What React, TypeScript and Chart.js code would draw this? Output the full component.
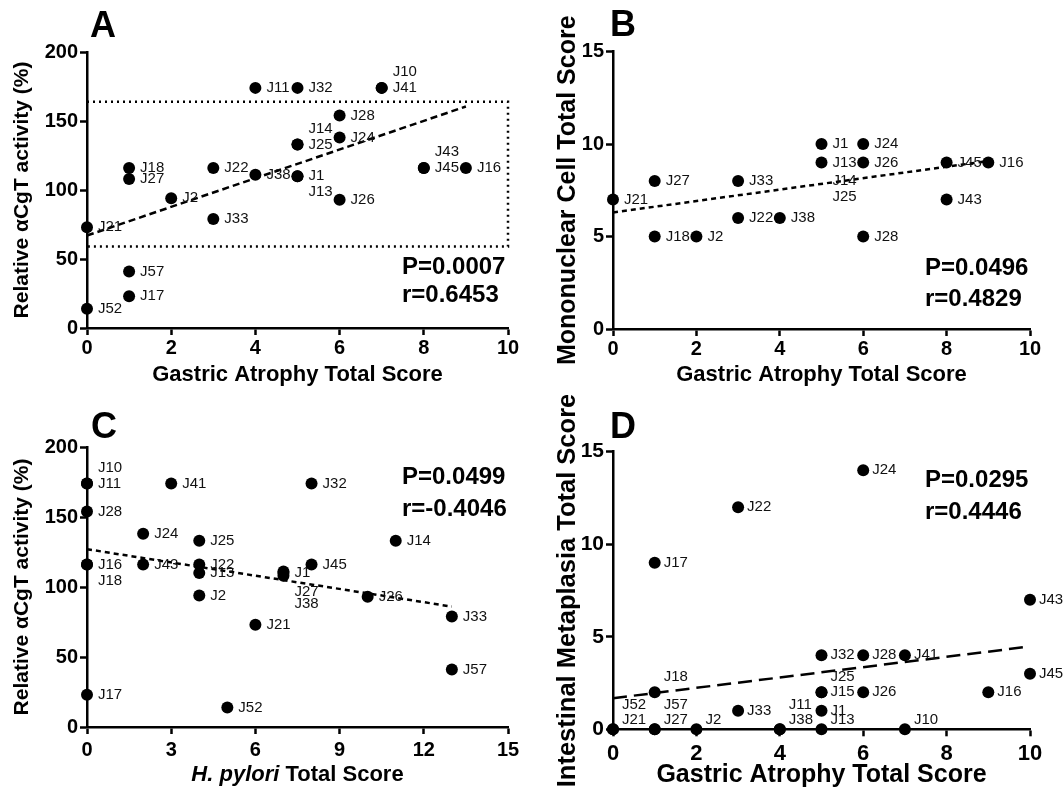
import React, { useEffect, useRef } from "react";
import { Chart, registerables } from "chart.js";
Chart.register(...registerables);

const FONT = "'Liberation Sans', Arial, Helvetica, sans-serif";

// ---------- Panel A: Relative αCgT activity vs Gastric Atrophy ----------
const aIds = ["J11","J32","J41","J10","J28","J24","J25","J14","J18","J27","J22","J38","J1","J13","J45","J43","J16","J26","J2","J33","J21","J57","J17","J52"];
const aX = [4,5,7,7,6,6,5,5,1,1,3,4,5,5,8,8,9,6,2,3,0,1,1,0];
const aY = [174,174,174,174,154,138,133,133,116,108,116,111,110,110,116,116,116,93,94,79,73,41,23,14];
const aSlot = [0,0,0,-1,0,0,0,-1,0,0,0,0,0,1,0,-1,0,0,0,0,0,0,0,0];
const aTrendX = [0, 9];
const aTrendY = [67, 160.5];
const aBoxX = [0, 10, 10, 0];
const aBoxY = [164, 164, 59, 59];
const aStats = ["P=0.0007", "r=0.6453"];

// ---------- Panel B: Mononuclear cell vs Gastric Atrophy ----------
const bIds = ["J1","J24","J13","J26","J45","J16","J27","J33","J14","J25","J21","J43","J22","J38","J18","J2","J28"];
const bX = [5,6,5,6,8,9,1,3,5,5,0,8,3,4,1,2,6];
const bY = [10,10,9,9,9,9,8,8,8,8,7,7,6,6,5,5,5];
const bSlot = [0,0,0,0,0,0,0,0,0,1,0,0,0,0,0,0,0];
const bNoDot = ["J14","J25"];
const bTrendX = [0, 9];
const bTrendY = [6.3, 9.08];
const bStats = ["P=0.0496", "r=0.4829"];

// ---------- Panel C: Relative αCgT activity vs H. pylori ----------
const cIds = ["J11","J10","J41","J32","J28","J24","J25","J14","J16","J18","J43","J22","J13","J45","J1","J27","J38","J2","J26","J33","J21","J57","J17","J52"];
const cX = [0,0,3,8,0,2,4,11,0,0,2,4,4,8,7,7,7,4,10,13,6,13,0,5];
const cY = [174,174,174,174,154,138,133,133,116,116,116,116,110,116,110,108,111,94,93,79,73,41,23,14];
const cSlot = [0,-1,0,0,0,0,0,0,0,1,0,0,0,0,0,1,2,0,0,0,0,0,0,0];
const cTrendX = [0, 13];
const cTrendY = [127, 86];
const cStats = ["P=0.0499", "r=-0.4046"];

// ---------- Panel D: Intestinal metaplasia vs Gastric Atrophy ----------
const dIds = ["J24","J22","J17","J43","J32","J28","J41","J45","J18","J15","J25","J26","J16","J33","J1","J21","J52","J27","J57","J2","J38","J11","J13","J10"];
const dX = [6,3,1,10,5,6,7,10,1,5,5,6,9,3,5,0,0,1,1,2,4,4,5,7];
const dY = [14,12,9,7,4,4,4,3,2,2,2,2,2,1,1,0,0,0,0,0,0,0,0,0];
const dSlot = [0,0,0,0,0,0,0,0,-1,0,-1,0,0,0,0,-0.65,-1.65,-0.65,-1.65,-0.65,-0.65,-1.65,-0.65,-0.65];
const dTrendX = [0, 9.83];
const dTrendY = [1.68, 4.43];
const dStats = ["P=0.0295", "r=0.4446"];

type Panel = {
  key: string;
  left: number; top: number; width: number; height: number;
  area: { left: number; right: number; top: number; bottom: number };
  ids: string[]; xs: number[]; ys: number[]; slots: number[]; noDot?: string[];
  trendX: number[]; trendY: number[]; trendDash: number[];
  boxX?: number[]; boxY?: number[];
  xMin: number; xMax: number; xStep: number;
  yMin: number; yMax: number; yStep: number;
  xTitle: string | null; xTitleSize: number; xTitlePad: number;
  yTitle: string; yTitleSize: number; yTitlePad: number;
  xTickSize: number; xTickPad: number; yTickSize: number;
  letter: string; letterX: number; letterY: number;
  stats: string[]; statsX: number; statsY: number[];
  labelSize: number; labelDx: number; labelLine: number; pointR: number;
  italicTitle?: { italic: string; rest: string; y: number; size: number };
};

const panels: Panel[] = [
  {
    key: "A", left: 0, top: 0, width: 530, height: 395,
    area: { left: 87, right: 508, top: 52, bottom: 328 },
    ids: aIds, xs: aX, ys: aY, slots: aSlot,
    trendX: aTrendX, trendY: aTrendY, trendDash: [7, 4],
    boxX: aBoxX, boxY: aBoxY,
    xMin: 0, xMax: 10, xStep: 2, yMin: 0, yMax: 200, yStep: 50,
    xTitle: "Gastric Atrophy Total Score", xTitleSize: 22, xTitlePad: 6.8,
    yTitle: "Relative \u03b1CgT activity (%)", yTitleSize: 21, yTitlePad: 9.4,
    xTickSize: 20, xTickPad: 1, yTickSize: 20,
    letter: "A", letterX: 90, letterY: 27,
    stats: aStats, statsX: 402, statsY: [267, 295],
    labelSize: 15, labelDx: 11, labelLine: 16, pointR: 6,
  },
  {
    key: "B", left: 530, top: 0, width: 534, height: 395,
    area: { left: 83, right: 500, top: 51.5, bottom: 329 },
    ids: bIds, xs: bX, ys: bY, slots: bSlot, noDot: bNoDot,
    trendX: bTrendX, trendY: bTrendY, trendDash: [5, 4],
    xMin: 0, xMax: 10, xStep: 2, yMin: 0, yMax: 15, yStep: 5,
    xTitle: "Gastric Atrophy Total Score", xTitleSize: 22, xTitlePad: 6.8,
    yTitle: "Mononuclear Cell Total Score", yTitleSize: 25, yTitlePad: 23,
    xTickSize: 20, xTickPad: 1, yTickSize: 20,
    letter: "B", letterX: 80, letterY: 26,
    stats: bStats, statsX: 395, statsY: [268, 299],
    labelSize: 15, labelDx: 11, labelLine: 16, pointR: 6,
  },
  {
    key: "C", left: 0, top: 395, width: 530, height: 398,
    area: { left: 87, right: 508, top: 52, bottom: 332 },
    ids: cIds, xs: cX, ys: cY, slots: cSlot,
    trendX: cTrendX, trendY: cTrendY, trendDash: [5, 4],
    xMin: 0, xMax: 15, xStep: 3, yMin: 0, yMax: 200, yStep: 50,
    xTitle: null, xTitleSize: 22, xTitlePad: 0,
    yTitle: "Relative \u03b1CgT activity (%)", yTitleSize: 21, yTitlePad: 9.4,
    xTickSize: 20, xTickPad: 4, yTickSize: 20,
    letter: "C", letterX: 91, letterY: 33,
    stats: cStats, statsX: 402, statsY: [82, 114],
    labelSize: 15, labelDx: 11, labelLine: 16, pointR: 6,
    italicTitle: { italic: "H. pylori", rest: " Total Score", y: 380, size: 22 },
  },
  {
    key: "D", left: 530, top: 395, width: 534, height: 398,
    area: { left: 83, right: 500, top: 56.7, bottom: 334.3 },
    ids: dIds, xs: dX, ys: dY, slots: dSlot,
    trendX: dTrendX, trendY: dTrendY, trendDash: [14, 7],
    xMin: 0, xMax: 10, xStep: 2, yMin: 0, yMax: 15, yStep: 5,
    xTitle: "Gastric Atrophy Total Score", xTitleSize: 25, xTitlePad: 3,
    yTitle: "Intestinal Metaplasia Total Score", yTitleSize: 25.5, yTitlePad: 22.7,
    xTickSize: 22, xTickPad: 4, yTickSize: 21,
    letter: "D", letterX: 80, letterY: 33,
    stats: dStats, statsX: 395, statsY: [85, 117],
    labelSize: 15, labelDx: 9, labelLine: 15, pointR: 6,
  },
];

function makeChart(canvas: HTMLCanvasElement, p: Panel) {
  const pts = p.ids.map((_, i) => ({ x: p.xs[i], y: p.ys[i] }));
  const trend = p.trendX.map((x, i) => ({ x, y: p.trendY[i] }));
  const datasets: any[] = [
    {
      data: pts,
      backgroundColor: "#000",
      pointBackgroundColor: "#000",
      pointBorderWidth: 0,
      pointRadius: (ctx: any) => (p.noDot && p.noDot.includes(p.ids[ctx.dataIndex]) ? 0 : p.pointR),
      pointHoverRadius: p.pointR,
      showLine: false,
      clip: false,
      order: 0,
    },
    {
      data: trend,
      showLine: true,
      borderColor: "#000",
      borderWidth: 2.5,
      borderDash: p.trendDash,
      pointRadius: 0,
      clip: false,
      order: 1,
    },
  ];
  if (p.boxX && p.boxY) {
    datasets.push({
      data: p.boxX.map((x, i) => ({ x, y: p.boxY![i] })),
      showLine: true,
      borderColor: "#000",
      borderWidth: 2.5,
      borderDash: [2, 4],
      pointRadius: 0,
      clip: false,
      order: 2,
    });
  }

  const overlay = {
    id: "overlay" + p.key,
    afterDatasetsDraw(chart: any) {
      const ctx = chart.ctx;
      const xs = chart.scales.x;
      const ys = chart.scales.y;
      ctx.save();
      ctx.font = `${p.labelSize}px ${FONT}`;
      ctx.fillStyle = "#111";
      ctx.textBaseline = "middle";
      ctx.textAlign = "left";
      p.ids.forEach((id, i) => {
        const px = xs.getPixelForValue(p.xs[i]);
        const py = ys.getPixelForValue(p.ys[i]);
        ctx.fillText(id, px + p.labelDx, py + p.slots[i] * p.labelLine);
      });
      ctx.restore();
    },
    afterDraw(chart: any) {
      const ctx = chart.ctx;
      ctx.save();
      ctx.fillStyle = "#000";
      ctx.textBaseline = "middle";
      ctx.textAlign = "left";
      ctx.font = `bold 36px ${FONT}`;
      ctx.fillText(p.letter, p.letterX, p.letterY);
      ctx.font = `bold 24px ${FONT}`;
      p.stats.forEach((s, i) => ctx.fillText(s, p.statsX, p.statsY[i]));
      if (p.italicTitle) {
        const t = p.italicTitle;
        const area = chart.chartArea;
        ctx.font = `italic bold ${t.size}px ${FONT}`;
        const w1 = ctx.measureText(t.italic).width;
        ctx.font = `bold ${t.size}px ${FONT}`;
        const w2 = ctx.measureText(t.rest).width;
        const cx = (area.left + area.right) / 2;
        const x0 = cx - (w1 + w2) / 2;
        ctx.font = `italic bold ${t.size}px ${FONT}`;
        ctx.fillText(t.italic, x0, t.y);
        ctx.font = `bold ${t.size}px ${FONT}`;
        ctx.fillText(t.rest, x0 + w1, t.y);
      }
      ctx.restore();
    },
  };

  const gridOpts = {
    display: true,
    drawOnChartArea: false,
    drawTicks: true,
    tickLength: 7,
    tickWidth: 2.5,
    tickColor: "#000",
  };
  const borderOpts = { display: true, color: "#000", width: 2.5 };
  const yWidth = p.area.left;
  const xHeight = p.height - p.area.bottom;

  return new Chart(canvas, {
    type: "scatter",
    data: { datasets },
    plugins: [overlay],
    options: {
      responsive: false,
      animation: false,
      events: [],
      layout: { padding: { left: 0, top: p.area.top, right: p.width - p.area.right, bottom: 0 } },
      plugins: { legend: { display: false }, tooltip: { enabled: false } },
      scales: {
        x: {
          type: "linear",
          min: p.xMin,
          max: p.xMax,
          ticks: {
            stepSize: p.xStep,
            color: "#000",
            padding: p.xTickPad,
            maxRotation: 0,
            autoSkip: false,
            font: { family: FONT, size: p.xTickSize, weight: "bold" },
          },
          grid: gridOpts,
          border: borderOpts,
          title: {
            display: !!p.xTitle,
            text: p.xTitle || "",
            color: "#000",
            font: { family: FONT, size: p.xTitleSize, weight: "bold" },
            padding: { top: 0, bottom: p.xTitlePad },
          },
          afterFit: (s: any) => {
            s.height = xHeight;
          },
        },
        y: {
          type: "linear",
          min: p.yMin,
          max: p.yMax,
          ticks: {
            stepSize: p.yStep,
            color: "#000",
            padding: 2,
            font: { family: FONT, size: p.yTickSize, weight: "bold" },
          },
          grid: gridOpts,
          border: borderOpts,
          title: {
            display: true,
            text: p.yTitle,
            color: "#000",
            font: { family: FONT, size: p.yTitleSize, weight: "bold" },
            padding: { top: p.yTitlePad, bottom: 0 },
          },
          afterFit: (s: any) => {
            s.width = yWidth;
          },
        },
      },
    } as any,
  });
}

function PanelChart({ p }: { p: Panel }) {
  const ref = useRef<HTMLCanvasElement | null>(null);
  useEffect(() => {
    if (!ref.current) return;
    const chart = makeChart(ref.current, p);
    return () => chart.destroy();
  }, [p]);
  return (
    <canvas
      ref={ref}
      width={p.width}
      height={p.height}
      style={{ position: "absolute", left: p.left, top: p.top, width: p.width, height: p.height }}
    />
  );
}

export default function App() {
  return (
    <div style={{ position: "absolute", left: 0, top: 0, width: 1064, height: 793, background: "#fff", overflow: "hidden" }}>
      {panels.map((p) => (
        <PanelChart key={p.key} p={p} />
      ))}
    </div>
  );
}
